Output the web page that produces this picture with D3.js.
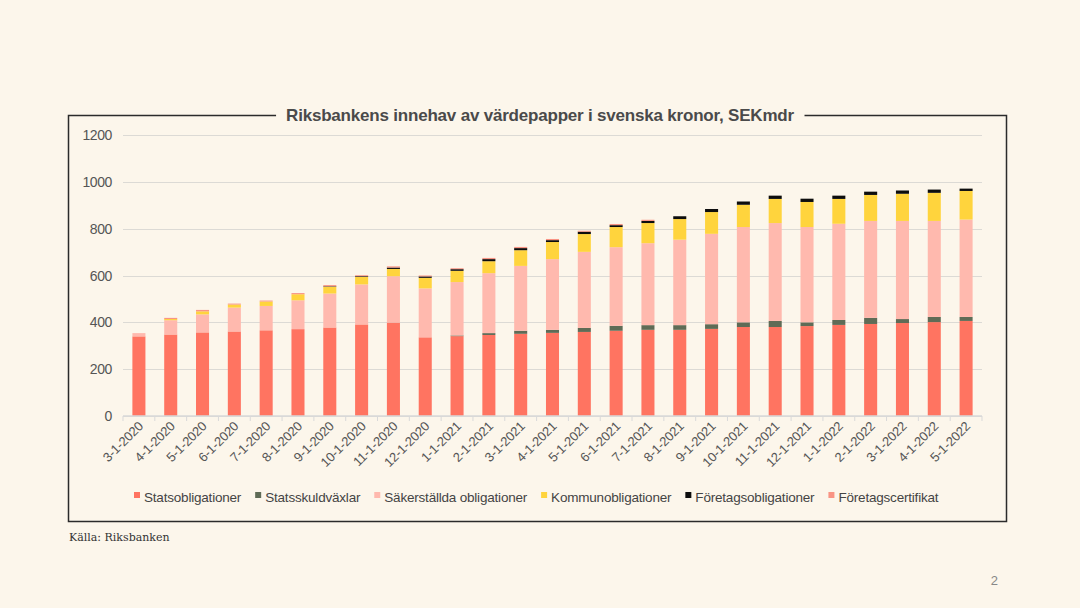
<!DOCTYPE html>
<html>
<head>
<meta charset="utf-8">
<script src="https://cdn.jsdelivr.net/npm/d3@7"></script>
<style>
	body { margin: 0; background: #fcf6eb; }
	svg { display: block; }
	text { font-family: 'Liberation Sans', Arial, sans-serif; }
</style>
</head>
<body>
<div id="chart"></div>
<script>

// categories (month)
const months = ['3-1-2020', '4-1-2020', '5-1-2020', '6-1-2020', '7-1-2020', '8-1-2020', '9-1-2020',
	'10-1-2020', '11-1-2020', '12-1-2020', '1-1-2021', '2-1-2021', '3-1-2021', '4-1-2021', '5-1-2021',
	'6-1-2021', '7-1-2021', '8-1-2021', '9-1-2021', '10-1-2021', '11-1-2021', '12-1-2021', '1-1-2022',
	'2-1-2022', '3-1-2022', '4-1-2022', '5-1-2022']

// series values, SEKmdr
const statsobligationer = [340, 348, 357, 361, 366, 371, 378, 391, 399, 336, 341, 346, 351, 355, 359, 364, 368, 368, 372, 380, 380, 384, 389, 393, 397, 401, 406]
const statsskuldvaxlar = [0, 0, 0, 0, 0, 0, 0, 0, 0, 0, 3, 8, 13, 13, 17, 21, 20, 20, 20, 20, 26, 16, 21, 26, 17, 22, 17]
const sakerstallda = [14, 61, 77, 102, 104, 123, 145, 171, 198, 209, 228, 256, 277, 302, 325, 336, 350, 365, 386, 407, 418, 407, 411, 414, 419, 410, 416]
const kommun = [0, 5, 13, 13, 19, 26, 29, 32, 31, 45, 48, 51, 67, 73, 76, 86, 86, 88, 93, 95, 103, 107, 106, 111, 116, 120, 122]
const foretagsobl = [0, 0, 0, 0, 0, 0, 2, 3, 6, 6, 7, 9, 9, 8, 10, 8, 9, 12, 13, 14, 14, 14, 14, 14, 14, 14, 10]
const foretagscert = [0, 5, 6, 4, 4, 5, 5, 4, 5, 4, 4, 5, 5, 5, 4, 5, 5, 0, 0, 0, 0, 0, 0, 0, 0, 0, 0]

const yTicks = [0, 200, 400, 600, 800, 1000, 1200]

const series = [
	{ key: 'Statsobligationer', values: statsobligationer, color: '#ff7461' },
	{ key: 'Statsskuldväxlar', values: statsskuldvaxlar, color: '#5f6b56' },
	{ key: 'Säkerställda obligationer', values: sakerstallda, color: '#ffb9ae' },
	{ key: 'Kommunobligationer', values: kommun, color: '#ffd43d' },
	{ key: 'Företagsobligationer', values: foretagsobl, color: '#0d0d0d' },
	{ key: 'Företagscertifikat', values: foretagscert, color: '#f99484' }
]

const title = 'Riksbankens innehav av värdepapper i svenska kronor, SEKmdr'

var width = 1080
var height = 608

var svg = d3.select('#chart')
	.append('svg')
	.attr('width', width)
	.attr('height', height)

// build rows for the stack
var rows = months.map((m, i) => {
	var row = { month: m }
	series.forEach(s => { row[s.key] = s.values[i] })
	return row
})
var stacked = d3.stack().keys(series.map(s => s.key))(rows)

// scales
var x = d3.scaleBand()
	.domain(months)
	.range([123, 982])
	.paddingInner(0.59)
	.paddingOuter(0.295)

var y = d3.scaleLinear()
	.domain([0, 1200])
	.range([416, 135])

// frame
svg.append('rect')
	.attr('x', 68.5)
	.attr('y', 115.5)
	.attr('width', 938)
	.attr('height', 406)
	.attr('fill', 'none')
	.attr('stroke', '#2b2b2b')
	.attr('stroke-width', 1.5)

// gridlines
svg.append('g')
	.selectAll('line')
	.data(yTicks)
	.enter()
	.append('line')
	.attr('x1', 123)
	.attr('x2', 982)
	.attr('y1', d => Math.round(y(d)) + 0.5)
	.attr('y2', d => Math.round(y(d)) + 0.5)
	.attr('stroke', '#dcdad5')
	.attr('stroke-width', 1)

// y labels
svg.append('g')
	.selectAll('text')
	.data(yTicks)
	.enter()
	.append('text')
	.attr('x', 112)
	.attr('y', d => y(d) + 5)
	.attr('text-anchor', 'end')
	.style('font-size', '14px')
	.style('letter-spacing', '-0.4px')
	.style('fill', '#555')
	.text(d => d)

// bars
svg.append('g')
	.selectAll('g')
	.data(stacked)
	.enter()
	.append('g')
	.attr('fill', (d, i) => series[i].color)
	.selectAll('rect')
	.data(d => d)
	.enter()
	.append('rect')
	.attr('x', d => x(d.data.month))
	.attr('width', x.bandwidth())
	.attr('y', d => y(d[1]))
	.attr('height', d => y(d[0]) - y(d[1]))

// x axis
var xAxis = d3.axisBottom(x).tickSize(0).tickFormat('')
svg.append('g')
	.attr('transform', 'translate(0,416)')
	.call(xAxis)
	.call(g => g.select('.domain').attr('stroke', '#d9d9d9').attr('stroke-width', 1.5).attr('d', 'M123,0H982'))

// tick marks between categories
var step = x.step()
svg.append('g')
	.selectAll('line')
	.data(d3.range(months.length + 1))
	.enter()
	.append('line')
	.attr('x1', d => 123 + d * step)
	.attr('x2', d => 123 + d * step)
	.attr('y1', 416)
	.attr('y2', 421)
	.attr('stroke', '#d9d9d9')
	.attr('stroke-width', 1)

// x labels, rotated
svg.append('g')
	.selectAll('text')
	.data(months)
	.enter()
	.append('text')
	.attr('transform', d => 'translate(' + (x(d) + x.bandwidth() / 2 + 5) + ',427) rotate(-45)')
	.attr('text-anchor', 'end')
	.style('font-size', '13px')
	.style('letter-spacing', '-0.2px')
	.style('fill', '#555')
	.text(d => d)

// legend
var legend = svg.append('g')
var lx = 134
series.forEach(s => {
	legend.append('rect')
		.attr('x', lx)
		.attr('y', 492)
		.attr('width', 6)
		.attr('height', 6)
		.attr('fill', s.color)
	var t = legend.append('text')
		.attr('x', lx + 10)
		.attr('y', 502)
		.style('font-size', '13.5px')
		.style('letter-spacing', '-0.2px')
		.style('fill', '#444')
		.text(s.key)
	lx += 10 + t.node().getComputedTextLength() + 14
})

// title with background to break the frame line
var tg = svg.append('g')
var tbg = tg.append('rect')
var tt = tg.append('text')
	.attr('x', 540)
	.attr('y', 121)
	.attr('text-anchor', 'middle')
	.style('font-size', '17px')
	.style('font-weight', 'bold')
	.style('letter-spacing', '-0.2px')
	.style('fill', '#4a4a4a')
	.text(title)
var tb = tt.node().getBBox()
tbg.attr('x', tb.x - 10)
	.attr('y', 108)
	.attr('width', tb.width + 20)
	.attr('height', 14)
	.attr('fill', '#fcf6eb')

// source
svg.append('text')
	.attr('x', 69)
	.attr('y', 541)
	.style('font-family', "'DejaVu Serif', serif")
	.style('font-size', '11px')
	.style('fill', '#333')
	.text('Källa: Riksbanken')

// page number
svg.append('text')
	.attr('x', 998)
	.attr('y', 585)
	.attr('text-anchor', 'end')
	.style('font-size', '13px')
	.style('fill', '#888')
	.text('2')

</script>
</body>
</html>
